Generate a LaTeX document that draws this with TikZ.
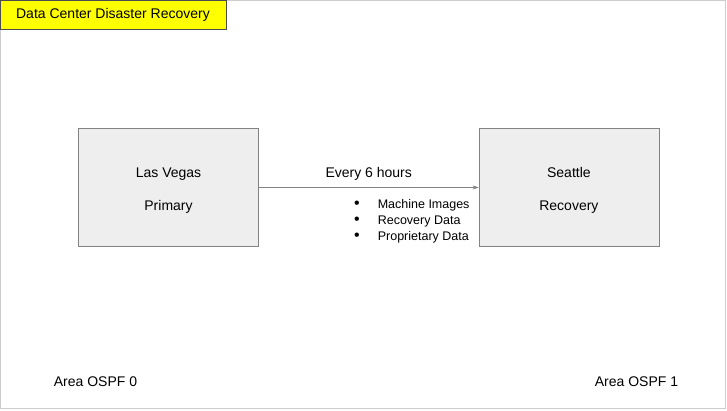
\documentclass[tikz,border=0pt]{standalone}
\usepackage{fontspec}
\setmainfont{Liberation Sans}
\usetikzlibrary{arrows.meta,positioning}
\definecolor{boxgrey}{RGB}{238,238,238}
\definecolor{edgegrey}{RGB}{130,130,130}
\definecolor{framegrey}{RGB}{205,205,205}
\definecolor{titleyellow}{RGB}{255,255,0}
\newcommand{\itemdot}{\raisebox{0.3pt}{\fontsize{16}{16}\selectfont\textbullet}}

\begin{document}
\begin{tikzpicture}[x=1pt, y=-1pt,
    site/.style={rectangle, draw=edgegrey, fill=boxgrey, minimum width=180pt, minimum height=118pt,
                 font=\fontsize{14}{16}\selectfont, align=center, inner sep=0pt},
    areatext/.style={font=\fontsize{14}{16}\selectfont, inner sep=0pt},
    >={Stealth[length=6pt,width=4pt]}
]
\useasboundingbox (0,0) rectangle (727,410);
\draw[framegrey] (0.5,0.5) rectangle (725.5,408.5);

\node[rectangle, draw=black!70, fill=titleyellow, minimum width=226pt, minimum height=29pt,
      font=\fontsize{14}{16}\selectfont, inner sep=0pt] (title) at (113,15) {Data Center Disaster Recovery};

\node[site] (vegas) at (168.5,187.5) {\rule{0pt}{16pt}Las Vegas\\[17pt]Primary};
\node[site, right=220pt of vegas] (seattle) {\rule{0pt}{16pt}Seattle\\[17pt]Recovery};

\draw[->, edgegrey] (vegas) -- node[above=4pt, text=black, font=\fontsize{14}{16}\selectfont] (every) {Every 6 hours} (seattle);

\node[anchor=north west, inner sep=0pt, font=\fontsize{12.5}{16}\selectfont] (payload) at (354,197)
  {\begin{tabular}{@{}l@{\hspace{18pt}}l@{}}
   \itemdot & Machine Images\\
   \itemdot & Recovery Data\\
   \itemdot & Proprietary Data
   \end{tabular}};

\node[areatext] (area0) at (95.5,382) {Area OSPF 0};
\node[areatext] (area1) at (636.5,382) {Area OSPF 1};
\end{tikzpicture}
\end{document}
